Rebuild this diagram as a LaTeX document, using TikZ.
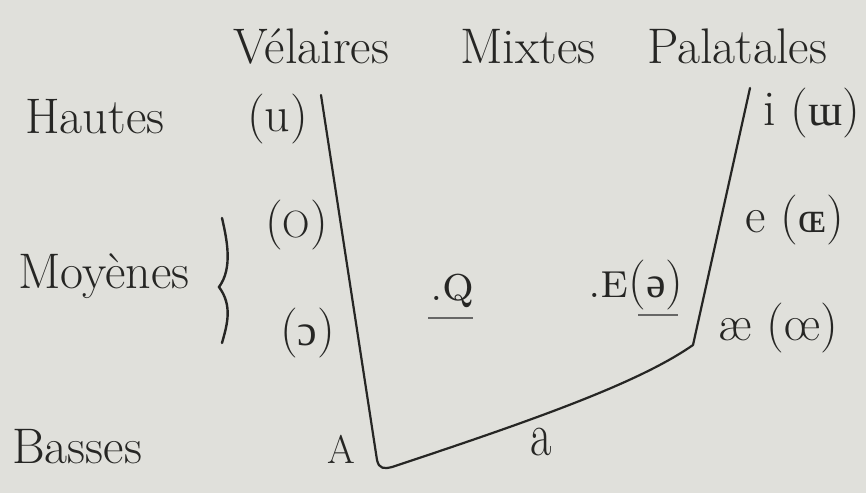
\documentclass[tikz,border=0pt]{standalone}
\usepackage{fontspec}
\newfontfamily\ipa{Liberation Serif}
\definecolor{ink}{RGB}{38,38,36}
\definecolor{paper}{RGB}{224,224,219}
\begin{document}
\begin{tikzpicture}[x=1pt,y=-1pt,
  lbl/.style={inner sep=0pt,anchor=base,text=ink,font=\fontsize{50}{54}\selectfont},
  snd/.style={inner sep=0pt,anchor=base west,text=ink,font=\fontsize{50}{54}\selectfont},
  edge/.style={line width=2.2pt,line join=round,line cap=round,draw=ink}]
\fill[paper] (0,0) rectangle (866,493);
\useasboundingbox (0,0) rectangle (866,493);
% column headings
\node[lbl] (vel) at (311,63) {Vélaires};
\node[lbl] (mix) at (528,63) {Mixtes};
\node[lbl] (pal) at (737,63) {Palatales};
% row headings
\node[lbl,anchor=base west] (hau) at (25,133) {Hautes};
\node[lbl,anchor=base west] (moy) at (18,288) {Moyènes};
\node[lbl,anchor=base west] (bas) at (12,463) {Basses};
% sounds
\node[snd] (u) at (247,131) {(u)};
\node[snd] (o) at (265,237) {({\fontsize{38}{40}\selectfont O})};
\node[snd] (oo) at (280,345) {({\ipa\fontsize{44}{48}\selectfont ɔ})};
\node[snd] (i) at (763,125) {i ({\ipa\fontsize{44}{48}\selectfont ɯ})};
\node[snd] (e) at (745,232) {e ({\ipa\fontsize{44}{48}\selectfont ɶ})};
\node[snd] (ae) at (718,340) {æ (œ)};
\node[snd] (q) at (430,300) {.\textsc{q}};
\node[snd] (E) at (588,297) {.\textsc{e}({\ipa\fontsize{44}{48}\selectfont ə})};
\node[snd] (A) at (327,463) {\fontsize{40}{44}\selectfont A};
\node[snd,xscale=0.75] (a) at (530,455) {\fontsize{62}{64}\selectfont a};
% underlines
\coordinate (q1) at (428,318); \coordinate (q2) at (473,318);
\coordinate (e1) at (638,315); \coordinate (e2) at (678,315);
\draw[line width=1.2pt,ink!70] (q1) -- (q2);
\draw[line width=1.2pt,ink!70] (e1) -- (e2);
% brace
\coordinate (b1) at (222,218); \coordinate (bm) at (219,287); \coordinate (b2) at (222,343);
\draw[line width=2.4pt,line cap=round,ink] (b1) .. controls (227,240) and (233,268) .. (bm)
  .. controls (233,306) and (227,325) .. (b2);
% vowel trapezoid
\coordinate (tl) at (321,95);
\coordinate (bl) at (377,460);
\coordinate (bl2) at (392,467);
\coordinate (br) at (693,345);
\coordinate (tr) at (750,88);
\draw[edge] (tl) -- (bl) .. controls (379,469) and (384,469) .. (bl2)
  .. controls (540,418) and (640,382) .. (br) -- (tr);
\end{tikzpicture}
\end{document}
